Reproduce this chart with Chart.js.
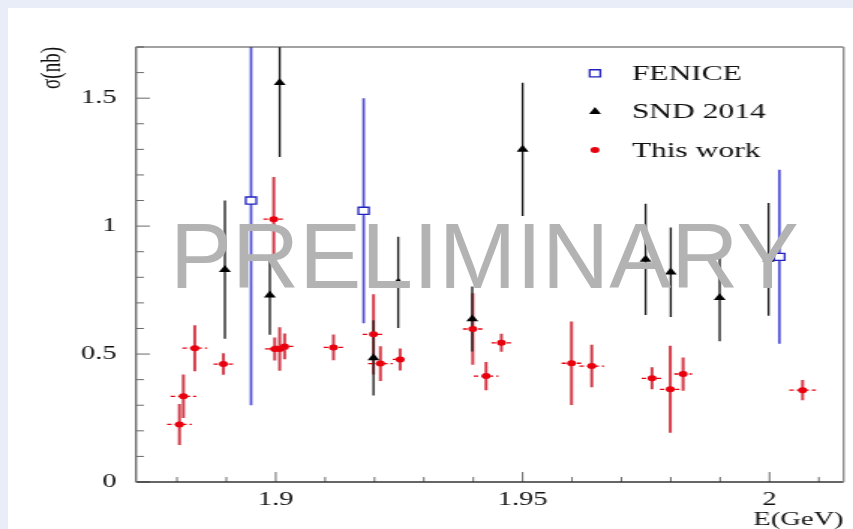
<!DOCTYPE html>
<html>
<head>
<meta charset="utf-8">
<script src="https://cdn.jsdelivr.net/npm/chart.js@4.4.1/dist/chart.umd.min.js"></script>
<style>
  html, body { margin: 0; padding: 0; }
  body { width: 853px; height: 529px; background: #e8edf7; position: relative; overflow: hidden; }
  #panel { position: absolute; left: 8px; top: 8px; right: 0; bottom: 0; background: #fff; }
  #chart { position: absolute; left: 0; top: 0; }
  #stamp { position: absolute; left: 170px; top: 210px; font: 93px/93px "Liberation Sans", Arial, sans-serif; color: #b3b3b3; white-space: nowrap; }
</style>
</head>
<body>
<div id="panel"></div>
<!-- the original figure is stretched sideways, so the bitmap is drawn narrow and widened by css -->
<canvas id="chart" width="569" height="529" style="width:853px;height:529px"></canvas>
<div id="stamp">PRELIMINARY</div>
<script>
const xMajor = [1.9, 1.95, 2];
const yMajor = [0, 0.5, 1, 1.5];

// FENICE
const feniceE = [1.895, 1.9178, 2.002];
const feniceSigma = [1.10, 1.06, 0.88];
const feniceErr = [0.80, 0.44, 0.34];

// SND 2014
const sndE = [1.8897, 1.8988, 1.9008, 1.9198, 1.9248, 1.9398, 1.95, 1.9749, 1.98, 1.9899, 1.9998];
const sndSigma = [0.83, 0.73, 1.56, 0.485, 0.78, 0.637, 1.30, 0.87, 0.82, 0.72, 0.87];
const sndErr = [0.27, 0.155, 0.29, 0.147, 0.178, 0.127, 0.26, 0.217, 0.175, 0.17, 0.22];

// This work
const thisE = [1.8805, 1.8813, 1.8836, 1.8894, 1.8996, 1.8998, 1.9008, 1.9018, 1.9117, 1.9198, 1.9212,
  1.9252, 1.9399, 1.9426, 1.9457, 1.9599, 1.964, 1.9762, 1.9799, 1.9825, 2.0067];
const thisSigma = [0.225, 0.335, 0.523, 0.461, 1.027, 0.52, 0.52, 0.53, 0.526, 0.577, 0.463,
  0.479, 0.598, 0.414, 0.544, 0.464, 0.453, 0.405, 0.362, 0.422, 0.359];
const thisErr = [0.08, 0.085, 0.09, 0.042, 0.165, 0.045, 0.085, 0.05, 0.05, 0.157, 0.068,
  0.043, 0.14, 0.055, 0.035, 0.163, 0.083, 0.043, 0.17, 0.065, 0.04];
const thisEErr = [0.0025, 0.0026, 0.0025, 0.002, 0.0021, 0.002, 0.0022, 0.0022, 0.002, 0.0022, 0.0025,
  0.0015, 0.002, 0.0025, 0.002, 0.002, 0.0025, 0.0021, 0.0021, 0.0018, 0.0027];

const legendOrder = ['FENICE', 'SND 2014', 'This work'];

const serif = 'Liberation Serif, Times New Roman, serif';

function points(xs, ys) {
    return xs.map((x, i) => ({ x: x, y: ys[i] }));
}

const datasets = [
    {
        label: 'This work',
        data: points(thisE, thisSigma),
        yErr: thisErr,
        xErr: thisEErr,
        barColor: 'rgba(208,40,55,0.9)',
        barWidth: 2,
        pointStyle: 'circle',
        pointRadius: 3,
        pointBackgroundColor: '#e8000e',
        pointBorderColor: '#e8000e',
        pointBorderWidth: 0,
        order: 0
    },
    {
        label: 'SND 2014',
        data: points(sndE, sndSigma),
        yErr: sndErr,
        barColor: '#1c1c1c',
        barWidth: 1.35,
        pointStyle: 'triangle',
        pointRadius: 4.6,
        pointBackgroundColor: '#000',
        pointBorderColor: '#000',
        pointBorderWidth: 0,
        order: 1
    },
    {
        label: 'FENICE',
        data: points(feniceE, feniceSigma),
        yErr: feniceErr,
        barColor: '#4d4dd9',
        barWidth: 1.7,
        pointStyle: 'rect',
        pointRadius: 5,
        pointBackgroundColor: '#fff',
        pointBorderColor: '#2222c0',
        pointBorderWidth: 1.3,
        order: 2
    }
];

const errorBars = {
    id: 'errorBars',
    beforeDatasetsDraw(chart) {
        const { ctx, chartArea: a, scales: { x, y } } = chart;
        ctx.save();
        ctx.beginPath();
        ctx.rect(a.left, a.top, a.right - a.left, a.bottom - a.top);
        ctx.clip();
        chart.data.datasets.forEach(ds => {
            ds.data.forEach((p, i) => {
                const px = x.getPixelForValue(p.x);
                const py = y.getPixelForValue(p.y);
                if (ds.xErr) {
                    ctx.strokeStyle = ds.pointBackgroundColor;
                    ctx.lineWidth = 1.3;
                    ctx.setLineDash([3, 2]);
                    ctx.beginPath();
                    ctx.moveTo(x.getPixelForValue(p.x - ds.xErr[i]), py);
                    ctx.lineTo(x.getPixelForValue(p.x + ds.xErr[i]), py);
                    ctx.stroke();
                    ctx.setLineDash([]);
                }
                ctx.strokeStyle = ds.barColor;
                ctx.lineWidth = ds.barWidth;
                ctx.beginPath();
                ctx.moveTo(px, y.getPixelForValue(p.y - ds.yErr[i]));
                ctx.lineTo(px, y.getPixelForValue(p.y + ds.yErr[i]));
                ctx.stroke();
            });
        });
        ctx.restore();
    }
};

// ROOT style frame with inward ticks
const frame = {
    id: 'frame',
    afterDatasetsDraw(chart) {
        const { ctx, chartArea: a, scales: { x, y } } = chart;
        ctx.save();
        ctx.strokeStyle = '#6a6a6a';
        ctx.lineWidth = 1;
        for (let k = Math.ceil(x.min * 100); k <= Math.floor(x.max * 100); k++) {
            const v = k / 100;
            const len = xMajor.some(m => Math.abs(m - v) < 1e-6) ? 10 : 5;
            const px = x.getPixelForValue(v);
            ctx.beginPath();
            ctx.moveTo(px, a.bottom);
            ctx.lineTo(px, a.bottom - len);
            ctx.stroke();
        }
        for (let k = Math.ceil(y.min * 10); k <= Math.floor(y.max * 10); k++) {
            const v = k / 10;
            const len = yMajor.some(m => Math.abs(m - v) < 1e-6) ? 9.3 : 5.3;
            const py = y.getPixelForValue(v);
            ctx.beginPath();
            ctx.moveTo(a.left, py);
            ctx.lineTo(a.left + len, py);
            ctx.stroke();
        }
        ctx.lineWidth = 1;
        ctx.strokeStyle = '#444';
        ctx.beginPath();
        ctx.moveTo(a.left, a.top);
        ctx.lineTo(a.right, a.top);
        ctx.stroke();
        ctx.lineWidth = 1.5;
        ctx.strokeStyle = '#333';
        ctx.beginPath();
        ctx.moveTo(a.left, a.bottom);
        ctx.lineTo(a.right, a.bottom);
        ctx.stroke();
        ctx.lineWidth = 1.4;
        ctx.strokeStyle = '#707070';
        ctx.beginPath();
        ctx.moveTo(a.left, a.top);
        ctx.lineTo(a.left, a.bottom);
        ctx.stroke();
        ctx.strokeStyle = '#8a8a8a';
        ctx.beginPath();
        ctx.moveTo(a.right, a.top);
        ctx.lineTo(a.right, a.bottom);
        ctx.stroke();
        ctx.restore();
    }
};

const rootLegend = {
    id: 'rootLegend',
    afterDraw(chart, args, opts) {
        const ctx = chart.ctx;
        ctx.save();
        ctx.font = '21px ' + serif;
        ctx.textBaseline = 'alphabetic';
        ctx.textAlign = 'left';
        legendOrder.forEach((name, row) => {
            const ds = chart.data.datasets.find(d => d.label === name);
            const base = opts.y + row * opts.gap;
            ctx.fillStyle = ds.pointBackgroundColor;
            ctx.strokeStyle = ds.pointBorderColor;
            ctx.lineWidth = ds.pointBorderWidth;
            Chart.helpers.drawPoint(ctx, {
                pointStyle: ds.pointStyle,
                radius: ds.pointRadius,
                borderWidth: ds.pointBorderWidth,
                rotation: 0
            }, opts.markerX, base - 6.7);
            ctx.fillStyle = '#111';
            ctx.fillText(name, opts.textX, base);
        });
        ctx.restore();
    }
};

new Chart(document.getElementById('chart'), {
    type: 'scatter',
    data: { datasets },
    plugins: [errorBars, frame, rootLegend],
    options: {
        responsive: false,
        animation: false,
        devicePixelRatio: 1,
        events: [],
        layout: { padding: { left: 0, right: 5.33, top: 47, bottom: 0 } },
        plugins: {
            legend: { display: false },
            tooltip: { enabled: false },
            rootLegend: { markerX: 396.9, textX: 421.4, y: 80, gap: 38.4 }
        },
        scales: {
            x: {
                type: 'linear',
                min: 1.8717,
                max: 2.015,
                grid: { display: false, drawTicks: false },
                border: { display: false },
                afterBuildTicks: s => { s.ticks = xMajor.map(v => ({ value: v })); },
                afterFit: s => { s.height = 47; },
                ticks: {
                    autoSkip: false,
                    maxRotation: 0,
                    padding: 7,
                    color: '#111',
                    font: { family: serif, size: 19 },
                    callback: v => String(v)
                },
                title: {
                    display: true,
                    text: 'E(GeV)',
                    align: 'end',
                    color: '#111',
                    font: { family: serif, size: 19 },
                    padding: { top: 0, bottom: -2 }
                }
            },
            y: {
                type: 'linear',
                min: 0,
                max: 1.7,
                grid: { display: false, drawTicks: false },
                border: { display: false },
                afterBuildTicks: s => { s.ticks = yMajor.map(v => ({ value: v })); },
                afterFit: s => { s.width = 90.72; },
                ticks: {
                    padding: 13,
                    color: '#111',
                    font: { family: serif, size: 19 },
                    callback: v => String(v)
                },
                title: {
                    display: true,
                    text: 'σ(nb)',
                    align: 'end',
                    color: '#111',
                    font: { family: serif, size: 19 },
                    padding: { top: 24, bottom: 0 }
                }
            }
        }
    }
});
</script>
</body>
</html>
